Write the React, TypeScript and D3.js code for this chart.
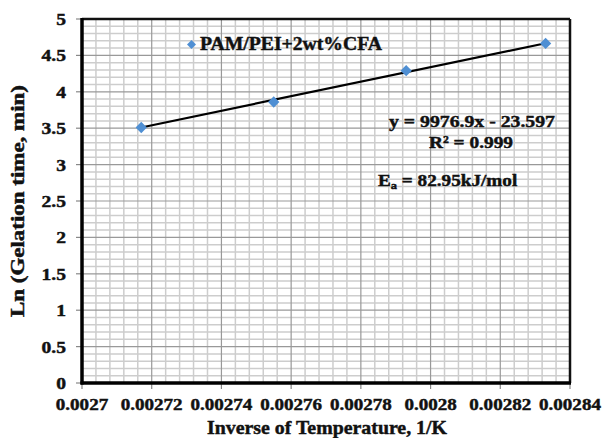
import React from "react";
import * as d3 from "d3";

// Inverse temperature (1/K) and ln of gelation time (min)
const invTemp = [0.002717, 0.002755, 0.002793, 0.002833];
const lnTime = [3.51, 3.86, 4.29, 4.665];
const seriesName = "PAM/PEI+2wt%CFA";

// Linear fit of ln(t) against 1/T
const slope = 9976.9;
const intercept = -23.597;
const fitLabel = "y = 9976.9x - 23.597";
const r2Label = "R² = 0.999";
const eaValue = "82.95kJ/mol";

const xTicks = [0.0027, 0.00272, 0.00274, 0.00276, 0.00278, 0.0028, 0.00282, 0.00284];
const yTicks = [0, 0.5, 1, 1.5, 2, 2.5, 3, 3.5, 4, 4.5, 5];

const W = 603;
const H = 438;
const FONT = "'Liberation Serif', 'Times New Roman', Times, serif";
const txt = {
  fontFamily: FONT,
  fontWeight: 700 as const,
  fill: "#111",
  stroke: "#111",
  strokeWidth: 0.45,
};

// width of a numeric label in a Times-metric bold face (digits 0.5em, dot 0.25em)
const numWidth = (s: string, size: number, stretch: number) =>
  s.split("").reduce((w, c) => w + (c === "." ? 0.25 : 0.5), 0) * size * stretch;

export default function App() {
  const left = 82, right = 570, top = 19, bottom = 383;
  const x = d3.scaleLinear().domain([0.0027, 0.00284]).range([left, right]);
  const y = d3.scaleLinear().domain([0, 5]).range([bottom, top]);

  // minor grid: 5 subdivisions per major x interval, 0.1 steps on y
  const xMinor = d3.range(0, 36).map((i) => 0.0027 + i * 0.000004).filter((v, i) => i % 5 !== 0);
  const yMinor = d3.range(0, 51).map((i) => i * 0.1).filter((v, i) => i % 5 !== 0);

  const xFit = [d3.min(invTemp)!, d3.max(invTemp)!];
  const fitLine = d3
    .line<number>()
    .x((d) => x(d))
    .y((d) => y(slope * d + intercept));

  // square symbol turned 45 degrees gives an even diamond
  const marker = d3.symbol().type(d3.symbolSquare).size(64)()!;
  const legendMarker = d3.symbol().type(d3.symbolSquare).size(40)()!;
  const fmtX = (v: number) => String(+v.toFixed(5));

  return (
    <svg
      width={W}
      height={H}
      style={{ position: "absolute", left: 0, top: 0, background: "#fff" }}
    >
      <rect x={0} y={0} width={W} height={H} fill="#fff" />
      {/* minor grid */}
      {xMinor.map((v, i) => (
        <line key={"xm" + i} x1={x(v)} x2={x(v)} y1={top} y2={bottom} stroke="#cdcdcd" strokeWidth={1.5} />
      ))}
      {yMinor.map((v, i) => (
        <line key={"ym" + i} x1={left} x2={right} y1={y(v)} y2={y(v)} stroke="#cdcdcd" strokeWidth={1.5} />
      ))}
      {/* major grid */}
      {xTicks.map((v, i) => (
        <line key={"xg" + i} x1={x(v)} x2={x(v)} y1={top} y2={bottom} stroke="#999" strokeWidth={1.2} />
      ))}
      {yTicks.map((v, i) => (
        <line key={"yg" + i} x1={left} x2={right} y1={y(v)} y2={y(v)} stroke="#999" strokeWidth={1.2} />
      ))}
      {/* plot frame */}
      <line x1={left} x2={right} y1={top} y2={top} stroke="#111" strokeWidth={2.5} />
      <line x1={right} x2={right} y1={top} y2={bottom} stroke="#111" strokeWidth={2.5} />
      {/* tick marks */}
      {yTicks.map((v, i) => (
        <line key={"yt" + i} x1={left - 6} x2={left} y1={y(v)} y2={y(v)} stroke="#888" strokeWidth={1.2} />
      ))}
      {xTicks.map((v, i) => (
        <line key={"xt" + i} x1={x(v)} x2={x(v)} y1={bottom} y2={bottom + 6} stroke="#888" strokeWidth={1.2} />
      ))}
      {/* axes */}
      <line x1={left} x2={left} y1={top - 1} y2={bottom + 1.5} stroke="#000" strokeWidth={3.5} />
      <line x1={left - 1.5} x2={right + 1} y1={bottom} y2={bottom} stroke="#000" strokeWidth={3.5} />

      {/* tick labels */}
      {yTicks.map((v, i) => {
        const s = String(v);
        const w = numWidth(s, 17, 1.15);
        return (
          <text
            key={"yl" + i}
            x={66 - w}
            y={y(v) + 6}
            fontSize={17}
            style={txt}
            textLength={w}
            lengthAdjust="spacingAndGlyphs"
          >
            {s}
          </text>
        );
      })}
      {xTicks.map((v, i) => {
        const s = fmtX(v);
        const w = numWidth(s, 17, 1.12);
        return (
          <text
            key={"xl" + i}
            x={x(v) - w / 2}
            y={410}
            fontSize={17}
            style={txt}
            textLength={w}
            lengthAdjust="spacingAndGlyphs"
          >
            {s}
          </text>
        );
      })}

      {/* axis titles */}
      <text x={207} y={434} fontSize={19} style={txt} textLength={240} lengthAdjust="spacingAndGlyphs">
        Inverse of Temperature, 1/K
      </text>
      <text
        transform={`translate(24,${(top + bottom) / 2 + 116}) rotate(-90)`}
        fontSize={18}
        style={txt}
        textLength={232}
        lengthAdjust="spacingAndGlyphs"
      >
        Ln (Gelation time, min)
      </text>

      {/* trendline */}
      <path d={fitLine(xFit) ?? ""} fill="none" stroke="#000" strokeWidth={2.2} />

      {/* data points */}
      {invTemp.map((v, i) => (
        <path
          key={"p" + i}
          d={marker}
          transform={`translate(${x(v)},${y(lnTime[i])}) rotate(45)`}
          fill="#4f8fd3"
        />
      ))}

      {/* legend */}
      <path d={legendMarker} transform="translate(191.5,44.5) rotate(45)" fill="#4f8fd3" />
      <text x={200} y={50} fontSize={18} style={txt} textLength={182} lengthAdjust="spacingAndGlyphs">
        {seriesName}
      </text>

      {/* fit annotations */}
      <text x={389} y={127} fontSize={17} style={txt} textLength={166} lengthAdjust="spacingAndGlyphs">
        {fitLabel}
      </text>
      <text x={429} y={148} fontSize={17} style={txt} textLength={84} lengthAdjust="spacingAndGlyphs">
        {r2Label}
      </text>
      <g transform="translate(378,186) scale(1.13,1)">
        <text x={0} y={0} fontSize={17} style={txt}>
          <tspan>E</tspan>
          <tspan fontSize={11} dy={3}>a</tspan>
          <tspan dy={-3}>{" = " + eaValue}</tspan>
        </text>
      </g>
    </svg>
  );
}
